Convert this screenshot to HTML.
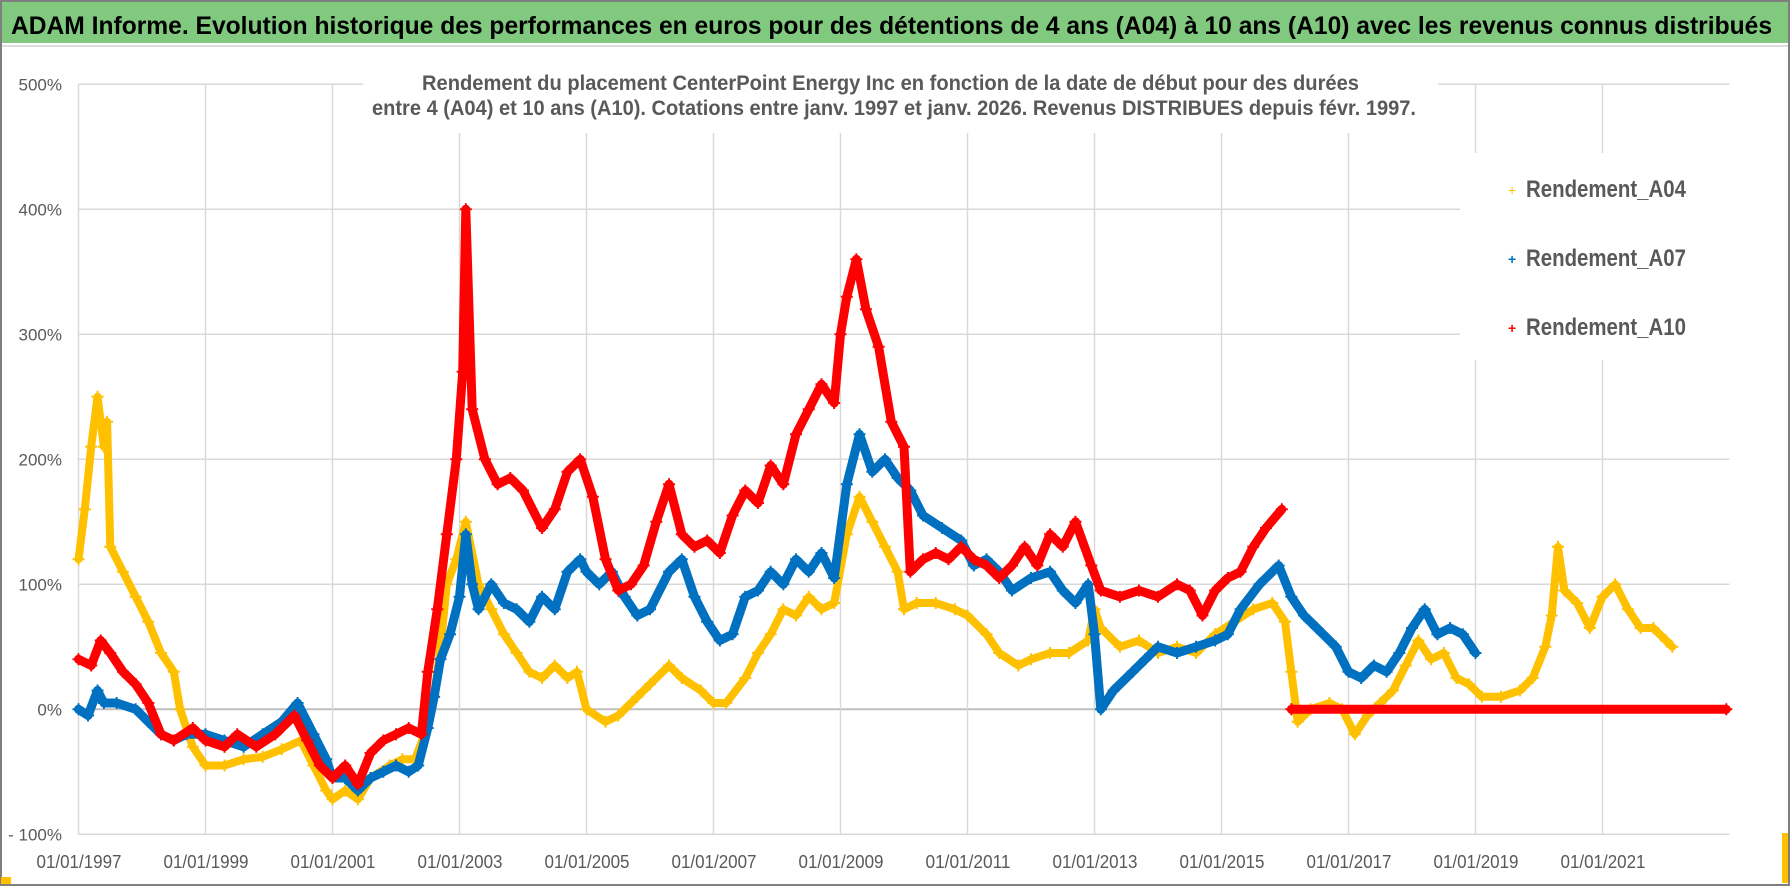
<!DOCTYPE html>
<html><head><meta charset="utf-8"><style>
html,body{margin:0;padding:0;background:#fff;}
svg{display:block;}
text{font-family:"Liberation Sans",sans-serif;}
</style></head><body>
<svg id="chart" width="1790" height="886" viewBox="0 0 1790 886" xmlns="http://www.w3.org/2000/svg">
<rect x="0" y="0" width="1790" height="886" fill="#fff"/>
<rect x="1" y="2" width="1788" height="41" fill="#80c97f"/>
<line x1="0" y1="46" x2="1790" y2="46" stroke="#d0d0d0" stroke-width="1.5"/>
<text x="11" y="34" font-size="25" font-weight="bold" fill="#000" textLength="1761" lengthAdjust="spacingAndGlyphs">ADAM Informe. Evolution historique des performances en euros pour des détentions de 4 ans (A04) à 10 ans (A10) avec les revenus connus distribués</text>
<g id="grid"></g>
<rect x="363" y="66" width="1075" height="67" fill="#fff"/>
<rect x="1460" y="153" width="270" height="207" fill="#fff"/>
<text x="422" y="90" font-size="21" font-weight="bold" fill="#595959" textLength="937" lengthAdjust="spacingAndGlyphs">Rendement du placement CenterPoint Energy Inc en fonction de la date de début pour des durées</text>
<text x="372" y="115" font-size="21" font-weight="bold" fill="#595959" textLength="1044" lengthAdjust="spacingAndGlyphs">entre 4 (A04) et 10 ans (A10). Cotations entre janv. 1997 et janv. 2026. Revenus DISTRIBUES depuis févr. 1997.</text>
<g id="axes"></g>
<g id="series"></g>
<g>
 <g><text x="1508" y="195" font-size="14" fill="#FFC000">+</text><text x="1526" y="197" font-size="24" font-weight="bold" fill="#595959" textLength="160" lengthAdjust="spacingAndGlyphs">Rendement_A04</text></g>
 <g><text x="1508" y="264" font-size="14" font-weight="bold" fill="#0070C0">+</text><text x="1526" y="266" font-size="24" font-weight="bold" fill="#595959" textLength="160" lengthAdjust="spacingAndGlyphs">Rendement_A07</text></g>
 <g><text x="1508" y="333" font-size="14" font-weight="bold" fill="#FF0000">+</text><text x="1526" y="335" font-size="24" font-weight="bold" fill="#595959" textLength="160" lengthAdjust="spacingAndGlyphs">Rendement_A10</text></g>
</g>
<rect x="1" y="1" width="1788" height="884" fill="none" stroke="#7f7f7f" stroke-width="2"/>
<rect x="1" y="877" width="10" height="7" fill="#FFC000"/>
<rect x="1782" y="833" width="6" height="50" fill="#FFC000"/>
</svg>
<script>
const yTicks=[500,400,300,200,100,0,-100];
const yTickLabels=["500%","400%","300%","200%","100%","0%","- 100%"];
const xTicks=[1997,1999,2001,2003,2005,2007,2009,2011,2013,2015,2017,2019,2021,2023];
const xTickLabels=["01/01/1997","01/01/1999","01/01/2001","01/01/2003","01/01/2005","01/01/2007","01/01/2009","01/01/2011","01/01/2013","01/01/2015","01/01/2017","01/01/2019","01/01/2021",""];
const a04Dates=[1997.0,1997.1,1997.2,1997.3,1997.4,1997.45,1997.5,1997.7,1997.9,1998.1,1998.3,1998.5,1998.6,1998.8,1999.0,1999.3,1999.6,1999.9,2000.2,2000.5,2000.7,2000.9,2001.0,2001.2,2001.4,2001.6,2001.9,2002.1,2002.3,2002.45,2002.6,2002.7,2002.8,2002.95,2003.1,2003.3,2003.5,2003.7,2003.9,2004.1,2004.3,2004.5,2004.7,2004.85,2005.0,2005.3,2005.5,2005.8,2006.0,2006.3,2006.5,2006.8,2007.0,2007.2,2007.5,2007.7,2007.9,2008.1,2008.3,2008.5,2008.7,2008.9,2009.1,2009.3,2009.5,2009.7,2009.9,2010.0,2010.2,2010.5,2010.8,2011.0,2011.3,2011.5,2011.8,2012.0,2012.3,2012.6,2012.9,2013.0,2013.1,2013.4,2013.7,2014.0,2014.3,2014.6,2014.9,2015.2,2015.5,2015.8,2016.0,2016.1,2016.2,2016.4,2016.7,2016.9,2017.1,2017.3,2017.5,2017.7,2017.9,2018.1,2018.3,2018.5,2018.7,2018.9,2019.1,2019.4,2019.7,2019.9,2020.1,2020.2,2020.3,2020.4,2020.6,2020.8,2021.0,2021.2,2021.4,2021.6,2021.8,2022.0,2022.1];
const a04Values=[120,160,210,250,210,230,130,110,90,70,45,30,0,-30,-45,-45,-40,-38,-32,-25,-45,-65,-72,-65,-72,-55,-45,-40,-40,-20,10,50,100,120,150,100,80,60,45,30,25,35,25,30,0,-10,-5,10,20,35,25,15,5,5,25,45,60,80,75,90,80,85,140,170,150,130,110,80,85,85,80,75,60,45,35,40,45,45,55,80,65,50,55,45,50,45,60,70,80,85,70,30,-10,0,5,0,-20,-5,5,15,35,55,40,45,25,20,10,10,15,25,50,75,130,95,85,65,90,100,80,65,65,55,50];
const a07Dates=[1997.0,1997.15,1997.3,1997.4,1997.6,1997.9,1998.1,1998.3,1998.5,1998.7,1999.0,1999.3,1999.6,1999.9,2000.2,2000.45,2000.7,2000.9,2001.0,2001.2,2001.4,2001.6,2001.8,2002.0,2002.2,2002.35,2002.5,2002.6,2002.7,2002.85,2003.0,2003.1,2003.2,2003.3,2003.5,2003.7,2003.9,2004.1,2004.3,2004.5,2004.7,2004.9,2005.0,2005.2,2005.4,2005.6,2005.8,2006.0,2006.3,2006.5,2006.7,2006.9,2007.1,2007.3,2007.5,2007.7,2007.9,2008.1,2008.3,2008.5,2008.7,2008.9,2009.1,2009.3,2009.5,2009.7,2009.9,2010.1,2010.3,2010.6,2010.9,2011.1,2011.3,2011.5,2011.7,2012.0,2012.3,2012.5,2012.7,2012.9,2013.0,2013.1,2013.3,2013.6,2013.8,2014.0,2014.3,2014.6,2014.9,2015.1,2015.3,2015.6,2015.9,2016.1,2016.3,2016.5,2016.8,2017.0,2017.2,2017.4,2017.6,2017.8,2018.0,2018.2,2018.4,2018.6,2018.8,2019.0];
const a07Values=[0,-5,15,5,5,0,-10,-20,-25,-20,-20,-25,-30,-20,-10,5,-20,-40,-55,-55,-65,-55,-50,-45,-50,-45,-15,10,40,60,90,140,100,80,100,85,80,70,90,80,110,120,110,100,110,90,75,80,110,120,90,70,55,60,90,95,110,100,120,110,125,105,180,220,190,200,185,175,155,145,135,115,120,110,95,105,110,95,85,100,60,0,15,30,40,50,45,50,55,60,80,100,115,90,75,65,50,30,25,35,30,45,65,80,60,65,60,45];
const a10Dates=[1997.0,1997.2,1997.35,1997.5,1997.7,1997.9,1998.1,1998.3,1998.5,1998.8,1999.0,1999.3,1999.5,1999.8,2000.1,2000.4,2000.6,2000.8,2001.0,2001.2,2001.4,2001.6,2001.8,2002.0,2002.2,2002.4,2002.5,2002.65,2002.8,2002.95,2003.05,2003.1,2003.2,2003.4,2003.6,2003.8,2004.0,2004.3,2004.5,2004.7,2004.9,2005.1,2005.3,2005.5,2005.7,2005.9,2006.1,2006.3,2006.5,2006.7,2006.9,2007.1,2007.3,2007.5,2007.7,2007.9,2008.1,2008.3,2008.5,2008.7,2008.9,2009.0,2009.1,2009.25,2009.4,2009.6,2009.8,2010.0,2010.1,2010.3,2010.5,2010.7,2010.9,2011.1,2011.3,2011.5,2011.7,2011.9,2012.1,2012.3,2012.5,2012.7,2012.95,2013.1,2013.4,2013.7,2014.0,2014.3,2014.5,2014.7,2014.9,2015.1,2015.3,2015.5,2015.7,2015.95];
const a10Values=[40,35,55,45,30,20,5,-20,-25,-15,-25,-30,-20,-30,-20,-5,-25,-45,-55,-45,-60,-35,-25,-20,-15,-20,30,80,140,200,270,400,240,200,180,185,175,145,160,190,200,170,120,95,100,115,150,180,140,130,135,125,155,175,165,195,180,220,240,260,245,300,330,360,320,290,230,210,110,120,125,120,130,120,115,105,115,130,115,140,130,150,115,95,90,95,90,100,95,75,95,105,110,130,145,160];
const a10ZeroDates=[2016.1,2022.95];
const a10ZeroValues=[0,0];

const X0=78.5, X1=1729.5, T0=1997, T1=2023;
const Y0=709.3, PX100=125;
function xs(t){return X0+(t-T0)*(X1-X0)/(T1-T0);}
function ys(v){return Y0-v*PX100/100;}
const NS="http://www.w3.org/2000/svg";
function mk(tag,parent){const e=document.createElementNS(NS,tag);parent.appendChild(e);return e;}

const grid=document.getElementById('grid');
yTicks.forEach((v,i)=>{
  const l=mk('line',grid);
  
  
  l.setAttribute('x1',X0);l.setAttribute('x2',X1);l.setAttribute('y1',ys(v));l.setAttribute('y2',ys(v));
  l.setAttribute('stroke',v===0?'#bfbfbf':'#d9d9d9');l.setAttribute('stroke-width',v===0?2:1.5);
});
xTicks.forEach((t,i)=>{
  if(i===xTicks.length-1)return;
  const l=mk('line',grid);
  
  
  l.setAttribute('x1',xs(t));l.setAttribute('x2',xs(t));l.setAttribute('y1',ys(500));l.setAttribute('y2',ys(-100));
  l.setAttribute('stroke','#d9d9d9');l.setAttribute('stroke-width',1.5);
});
const axes=document.getElementById('axes');
yTicks.forEach((v,i)=>{
  const t=mk('text',axes);
  
  
  t.setAttribute('x',62);t.setAttribute('y',ys(v)+6);t.setAttribute('text-anchor','end');
  t.setAttribute('font-size','17');t.setAttribute('fill','#595959');
  t.textContent=yTickLabels[i];
});
xTicks.forEach((v,i)=>{
  if(!xTickLabels[i])return;
  const t=mk('text',axes);
  
  
  t.setAttribute('x',xs(v)-42);t.setAttribute('y',868);
  t.setAttribute('font-size','18');t.setAttribute('fill','#595959');
  t.setAttribute('textLength','85');t.setAttribute('lengthAdjust','spacingAndGlyphs');
  t.textContent=xTickLabels[i];
});

const ser=document.getElementById('series');
function drawSeries(dates,vals,color,name,w){
  const g=mk('g',ser);
  
  
  const p=mk('polyline',g);
  
  
  p.setAttribute('points',dates.map((d,i)=>xs(d).toFixed(1)+','+ys(vals[i]).toFixed(1)).join(' '));
  p.setAttribute('fill','none');p.setAttribute('stroke',color);p.setAttribute('stroke-width',w);
  p.setAttribute('stroke-linejoin','round');p.setAttribute('stroke-linecap','round');
  dates.forEach((d,i)=>{
    const m=mk('path',g);
    
    
    const x=xs(d),y=ys(vals[i]);
    m.setAttribute('d','M'+(x-6)+' '+y+'h12M'+x+' '+(y-6)+'v12');
    m.setAttribute('stroke',color);m.setAttribute('stroke-width',2);
  });
}
drawSeries(a04Dates,a04Values,'#FFC000','series-a04',8);
drawSeries(a07Dates,a07Values,'#0070C0','series-a07',9);
drawSeries(a10Dates,a10Values,'#FF0000','series-a10',9);
drawSeries(a10ZeroDates,a10ZeroValues,'#FF0000','series-a10-zero',9);
</script>
</body></html>
